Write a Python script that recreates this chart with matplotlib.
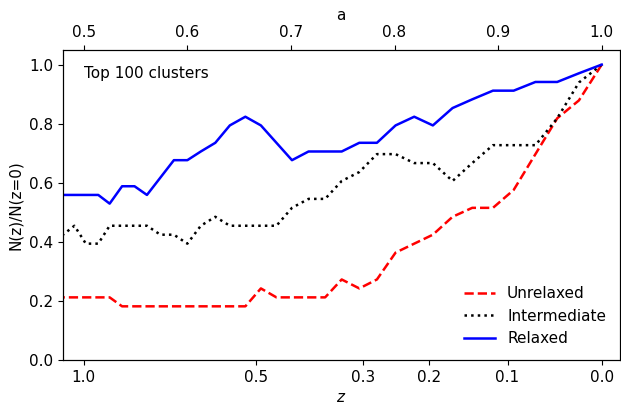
import matplotlib.pyplot as plt
import numpy as np

# snapshot expansion factors, from z=0 backwards
a = [1.000, 0.978, 0.957, 0.936, 0.915, 0.895, 0.875, 0.856, 0.837, 0.819,
     0.801, 0.783, 0.766, 0.749, 0.733, 0.717, 0.701, 0.686, 0.671, 0.656,
     0.641, 0.627, 0.613, 0.600, 0.587, 0.574, 0.561, 0.549, 0.537, 0.525,
     0.514, 0.502, 0.491, 0.480]

# number of clusters of each class that have already formed at each snapshot
n_unrelaxed = [33, 29, 27, 23, 19, 17, 17, 16, 14, 13,
               12, 9, 8, 9, 7, 7, 7, 7, 8, 6,
               6, 6, 6, 6, 6, 6, 6, 6, 6, 7,
               7, 7, 7, 7]
n_intermediate = [33, 31, 27, 24, 24, 24, 22, 20, 22, 22,
                  23, 23, 21, 20, 18, 18, 17, 15, 15, 15,
                  15, 16, 15, 13, 14, 14, 15, 15, 15, 15,
                  13, 13, 15, 14]
n_relaxed = [34, 33, 32, 32, 31, 31, 30, 29, 27, 28,
             27, 25, 25, 24, 24, 24, 23, 25, 27, 28,
             27, 25, 24, 23, 23, 21, 19, 20, 20, 18,
             19, 19, 19, 19]

z_ticks = [1.0, 0.5, 0.3, 0.2, 0.1, 0.0]
a_ticks = [0.5, 0.6, 0.7, 0.8, 0.9, 1.0]

a = np.array(a)
frac_u = np.array(n_unrelaxed) / n_unrelaxed[0]
frac_i = np.array(n_intermediate) / n_intermediate[0]
frac_r = np.array(n_relaxed) / n_relaxed[0]

fs = 11

fig = plt.figure(figsize=(6.21, 4.05), dpi=100)
ax = fig.add_axes([0.101, 0.111, 0.897, 0.766])

ax.plot(a, frac_u, color='r', linestyle='--', lw=1.8, label='Unrelaxed')
ax.plot(a, frac_i, color='k', linestyle=':', lw=1.8, label='Intermediate')
ax.plot(a, frac_r, color='b', linestyle='-', lw=1.8, label='Relaxed')

xlim = (0.4797, 1.0174)
ax.set_xlim(xlim)
ax.set_ylim(0, 1.05)
ax.set_yticks([0.0, 0.2, 0.4, 0.6, 0.8, 1.0])

# bottom axis labelled in redshift
ax.set_xticks([1.0 / (1.0 + z) for z in z_ticks])
ax.set_xticklabels(['%.1f' % z for z in z_ticks])
ax.set_xlabel('$z$', fontsize=fs)
ax.set_ylabel('N(z)/N(z=0)', fontsize=fs)
ax.tick_params(labelsize=fs)

# top axis in expansion factor
ax2 = ax.twiny()
ax2.set_xlim(xlim)
ax2.set_xticks(a_ticks)
ax2.set_xticklabels(['%.1f' % v for v in a_ticks])
ax2.set_xlabel('a', fontsize=fs)
ax2.tick_params(labelsize=fs)

ax.text(0.038, 0.923, 'Top 100 clusters', transform=ax.transAxes,
        fontsize=fs, va='center', ha='left')
ax.legend(loc='lower right', frameon=False, fontsize=fs)

fig.savefig('out.png', dpi=100)
